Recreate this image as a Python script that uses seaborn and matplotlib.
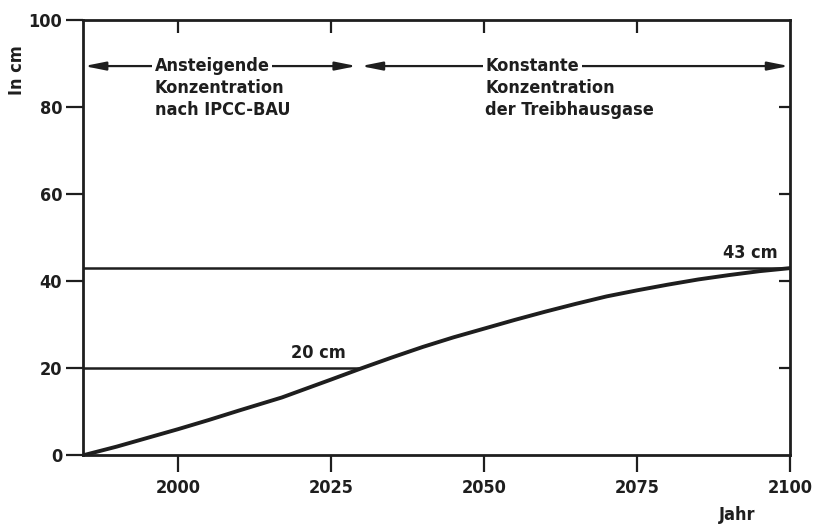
import matplotlib
matplotlib.use("Agg")
import matplotlib.pyplot as plt
import seaborn as sns
import pandas as pd

# ---- data ----
years = [1984.5, 1990, 1995, 2000, 2005, 2010, 2017, 2025, 2030, 2035, 2040, 2045, 2050,
         2055, 2060, 2065, 2070, 2075, 2080, 2085, 2090, 2095, 2100]
rise_cm = [0, 2.0, 4.0, 6.0, 8.1, 10.3, 13.3, 17.4, 20.0, 22.5, 24.9, 27.1, 29.1,
           31.1, 33.0, 34.8, 36.5, 37.9, 39.2, 40.4, 41.4, 42.3, 43.0]

ref_levels = [20, 43]
ref_labels = ["20 cm", "43 cm"]
ref_end_years = [2029.5, 2100]

x_ticks = [2000, 2025, 2050, 2075, 2100]
y_ticks = [0, 20, 40, 60, 80, 100]

phase_names = [["Ansteigende", "Konzentration", "nach IPCC-BAU"],
               ["Konstante", "Konzentration", "der Treibhausgase"]]
phase_spans = [(1984.7, 2029.2), (2029.9, 2099.8)]
phase_text_x = [1996.2, 2050.2]

x_min, x_max = 1984.5, 2100
y_min, y_max = 0, 100

# ---- style ----
sns.set_theme(style="ticks")
plt.rcParams['font.family'] = ['DejaVu Sans']
plt.rcParams['font.stretch'] = 'condensed'
plt.rcParams['font.weight'] = 'bold'
ink = "#1e1e1e"

fig = plt.figure(figsize=(8.13, 5.24), dpi=100)
ax = fig.add_axes([0.102, 0.131, 0.870, 0.831])

df = pd.DataFrame({"Jahr": years, "cm": rise_cm})
sns.lineplot(data=df, x="Jahr", y="cm", ax=ax, color=ink, lw=2.8, zorder=4)

ax.set_xlim(x_min, x_max)
ax.set_ylim(y_min, y_max)

for lvl, xe in zip(ref_levels, ref_end_years):
    ax.hlines(lvl, x_min, xe, color=ink, lw=1.8, zorder=3)
ax.text(2023, 23.5, ref_labels[0], ha="center", va="center", fontsize=13, color=ink)
ax.text(2093.5, 46.5, ref_labels[1], ha="center", va="center", fontsize=13, color=ink)

arrow_y = 89.4
line_ys = [89.4, 84.4, 79.3]
for (xa, xb), names, tx in zip(phase_spans, phase_names, phase_text_x):
    ax.annotate("", xy=(xb, arrow_y), xytext=(xa, arrow_y),
                arrowprops=dict(arrowstyle="<|-|>,head_length=0.9,head_width=0.18",
                                color=ink, lw=1.6, shrinkA=0, shrinkB=0,
                                mutation_scale=14),
                zorder=3)
    for i, (name, yy) in enumerate(zip(names, line_ys)):
        ax.text(tx, yy, name, ha="left", va="center", fontsize=13, color=ink,
                zorder=5,
                bbox=dict(boxstyle="square,pad=0.15", fc="white", ec="none") if i == 0 else None)

ax.set_xticks(x_ticks)
ax.set_yticks(y_ticks)
ax.set_xticklabels([str(t) for t in x_ticks])
ax.set_yticklabels([str(t) for t in y_ticks])
ax.tick_params(axis="x", which="major", direction="out", length=12, width=1.6,
               color=ink, labelsize=13, labelcolor=ink, pad=5)
ax.tick_params(axis="y", which="major", direction="out", length=12, width=1.6,
               color=ink, labelsize=13, labelcolor=ink, pad=3)
ax.set_xlabel("")
ax.set_ylabel("")

top = ax.secondary_xaxis("top")
top.set_xticks(x_ticks[:-1])
top.tick_params(direction="in", length=9, width=1.6, color=ink, labeltop=False)
top.spines["top"].set_visible(False)
right = ax.secondary_yaxis("right")
right.set_yticks(y_ticks[1:-1])
right.tick_params(direction="in", length=8, width=1.6, color=ink, labelright=False)
right.spines["right"].set_visible(False)

for s in ax.spines.values():
    s.set_visible(True)
    s.set_linewidth(2.0)
    s.set_color(ink)

ax.text(-0.093, 0.885, "In cm", transform=ax.transAxes, rotation=90,
        ha="center", va="center", fontsize=13, color=ink)
ax.text(0.925, -0.138, "Jahr", transform=ax.transAxes,
        ha="center", va="center", fontsize=13, color=ink)

fig.savefig("out.png", dpi=100, facecolor="white")
